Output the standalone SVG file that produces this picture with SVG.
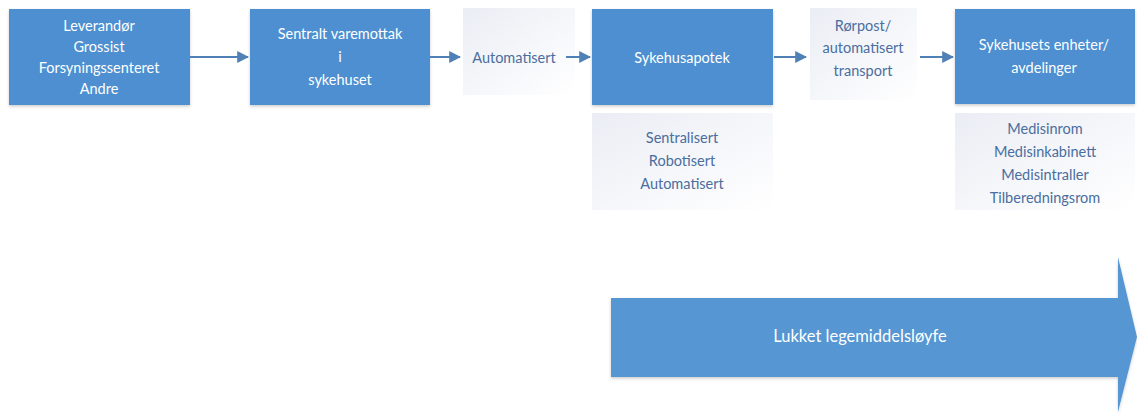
<svg xmlns="http://www.w3.org/2000/svg" width="1137" height="416" viewBox="0 0 1137 416">
  <defs>
    <style>
      .box { fill: #4e8fd0; }
      .lite { fill: url(#liteGrad); }
      .wt { font-family: Lato, "Open Sans", sans-serif; font-size: 14.5px; fill: #ffffff; text-anchor: middle; dominant-baseline: central; }
      .bt { font-family: Lato, "Open Sans", sans-serif; font-size: 14.5px; fill: #4a6e9e; text-anchor: middle; dominant-baseline: central; }
      .conn { stroke: #4f80b6; stroke-width: 2; fill: none; marker-end: url(#ah); }
    </style>
    <linearGradient id="liteGrad" x1="0" y1="0" x2="1" y2="1">
      <stop offset="0" stop-color="#eaedf4"/>
      <stop offset="0.6" stop-color="#f7f8fb"/>
      <stop offset="1" stop-color="#ffffff"/>
    </linearGradient>
    <marker id="ah" viewBox="0 0 10 10" refX="9" refY="5" markerWidth="6" markerHeight="6" orient="auto" markerUnits="strokeWidth">
      <path d="M0,0 L10,5 L0,10 z" fill="#4f80b6"/>
    </marker>
    <filter id="sh" x="-5%" y="-5%" width="110%" height="115%">
      <feDropShadow dx="0" dy="1.5" stdDeviation="1.5" flood-color="#000" flood-opacity="0.2"/>
    </filter>
  </defs>
  <rect width="1137" height="416" fill="#ffffff"/>

  <g id="n-leverandor">
    <rect class="box" x="9" y="9" width="181" height="96" filter="url(#sh)"/>
    <text class="wt" x="99" y="25">Leverandør</text>
    <text class="wt" x="99" y="46">Grossist</text>
    <text class="wt" x="99" y="67">Forsyningssenteret</text>
    <text class="wt" x="99" y="88">Andre</text>
  </g>

  <g id="n-varemottak">
    <rect class="box" x="250" y="9" width="180" height="96" filter="url(#sh)"/>
    <text class="wt" x="340" y="33">Sentralt varemottak</text>
    <text class="wt" x="340" y="56">i</text>
    <text class="wt" x="340" y="79">sykehuset</text>
  </g>

  <g id="n-automatisert">
    <rect class="lite" x="463" y="8" width="112" height="87"/>
    <text class="bt" x="514" y="57">Automatisert</text>
  </g>

  <g id="n-apotek">
    <rect class="box" x="592" y="9" width="181" height="96" filter="url(#sh)"/>
    <text class="wt" x="682" y="57">Sykehusapotek</text>
  </g>

  <g id="n-apotek-detalj">
    <rect class="lite" x="592" y="113" width="181" height="97"/>
    <text class="bt" x="682" y="137">Sentralisert</text>
    <text class="bt" x="682" y="160">Robotisert</text>
    <text class="bt" x="682" y="183">Automatisert</text>
  </g>

  <g id="n-rorpost">
    <rect class="lite" x="810" y="8" width="107" height="92"/>
    <text class="bt" x="863" y="25">Rørpost/</text>
    <text class="bt" x="863" y="47">automatisert</text>
    <text class="bt" x="863" y="70">transport</text>
  </g>

  <g id="n-enheter">
    <rect class="box" x="955" y="9" width="180" height="95" filter="url(#sh)"/>
    <text class="wt" x="1044" y="44">Sykehusets enheter/</text>
    <text class="wt" x="1044" y="67">avdelinger</text>
  </g>

  <g id="n-enheter-detalj">
    <rect class="lite" x="955" y="113" width="180" height="97"/>
    <text class="bt" x="1045" y="128">Medisinrom</text>
    <text class="bt" x="1045" y="151">Medisinkabinett</text>
    <text class="bt" x="1045" y="174">Medisintraller</text>
    <text class="bt" x="1045" y="197">Tilberedningsrom</text>
  </g>

  <g id="connectors">
    <line class="conn" x1="190" y1="57" x2="248" y2="57"/>
    <line class="conn" x1="430" y1="57" x2="460" y2="57"/>
    <line class="conn" x1="566" y1="57" x2="590" y2="57"/>
    <line class="conn" x1="774" y1="57" x2="806" y2="57"/>
    <line class="conn" x1="920" y1="57" x2="953" y2="57"/>
  </g>

  <g id="n-lukket">
    <path d="M611,298 L1118,298 L1118,257 L1137,337 L1118,412 L1118,377 L611,377 Z" fill="#5596d3" filter="url(#sh)"/>
    <text class="wt" x="860" y="336" style="font-size:16.5px">Lukket legemiddelsløyfe</text>
  </g>
</svg>
